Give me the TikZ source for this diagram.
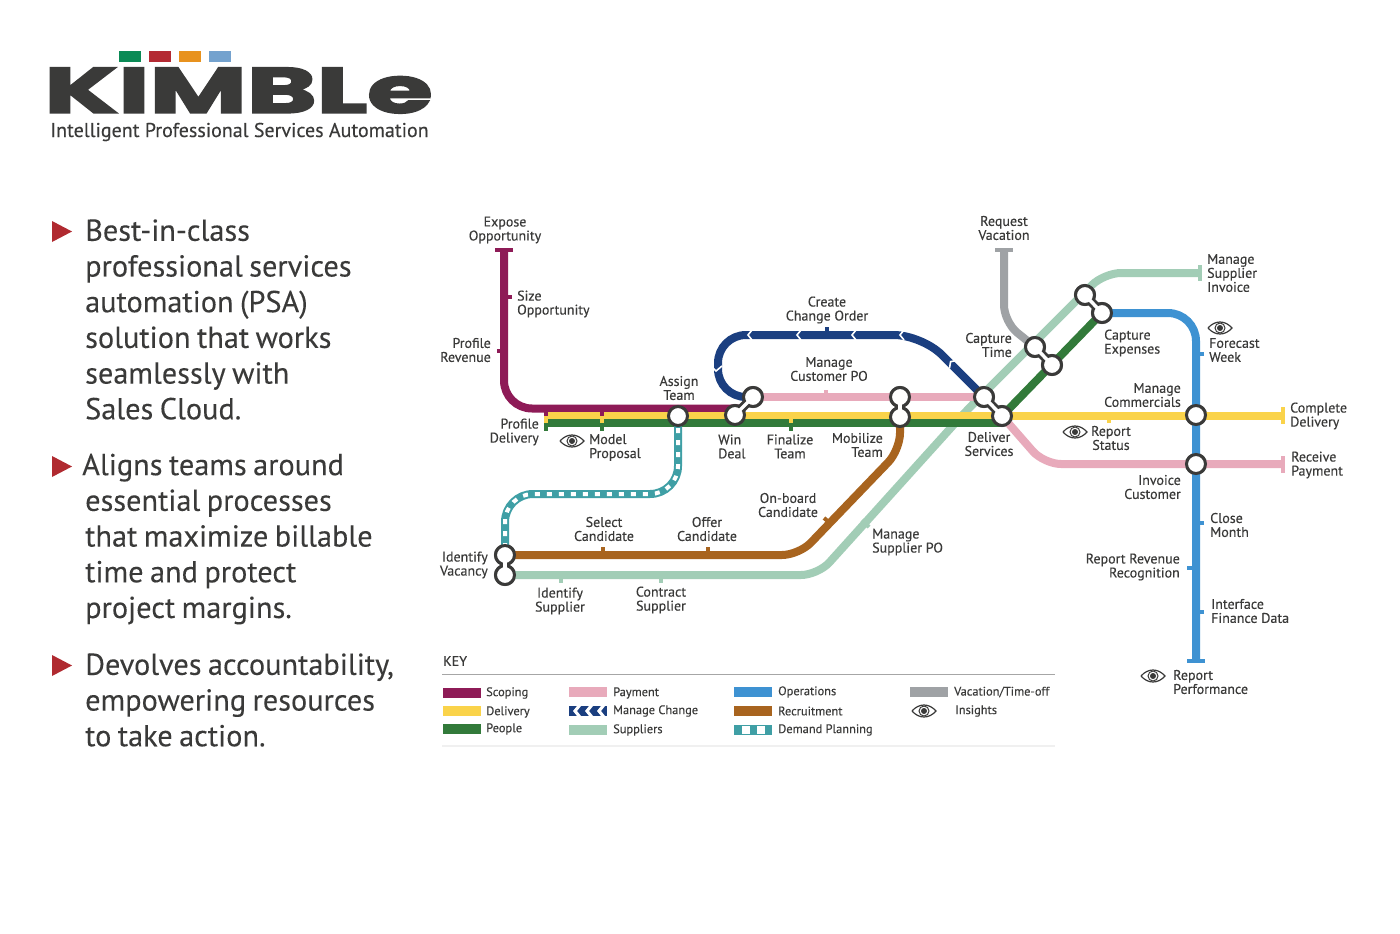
\documentclass[tikz,border=0pt]{standalone}
\usepackage{fontspec}
\setmainfont{PT Sans}
\newfontfamily\logofont[BoldFeatures={FakeBold=2.5}]{Poppins}
\newfontfamily\lblfont[FakeBold=0.25]{PT Sans}
\newfontfamily\parafont[WordSpace=0.8,FakeBold=0.1]{PT Sans}
\usetikzlibrary{arrows}
\definecolor{ink}{HTML}{3A3A39}
\definecolor{scoping}{HTML}{8E1B57}
\definecolor{delivery}{HTML}{FAD34A}
\definecolor{people}{HTML}{327A3A}
\definecolor{payment}{HTML}{E8AABB}
\definecolor{change}{HTML}{1B3F80}
\definecolor{suppliers}{HTML}{A2CDB6}
\definecolor{operations}{HTML}{3E92D2}
\definecolor{recruitment}{HTML}{A8641F}
\definecolor{planning}{HTML}{3F9FA5}
\definecolor{vacation}{HTML}{9FA2A5}
\definecolor{bullet}{HTML}{B02A30}
\begin{document}
\begin{tikzpicture}[x=1pt,y=-1pt,
    lbl/.style={inner sep=0pt,text=ink,yshift=1pt,font=\lblfont\fontsize{14}{14}\selectfont},
    lbll/.style={lbl,align=left,anchor=west},
    lblr/.style={lbl,align=right,anchor=east},
    lblc/.style={lbl,align=center},
    keylbl/.style={inner sep=0pt,text=ink,anchor=west,font=\lblfont\fontsize{12.4}{13}\selectfont},
    para/.style={inner sep=0pt,text=ink,align=left,anchor=west,font=\parafont\fontsize{30.3}{35.7}\selectfont},
    line/.style={line width=8pt,rounded corners=28pt},
    tight/.style={rounded corners=17pt},
    stub/.style={line width=4pt},
    endcap/.style={line width=4.5pt},
    chev/.style={draw=white,line width=1.6pt},
    stn/.style={shape=circle,draw=ink,fill=white,line width=3pt,minimum size=19pt,inner sep=0pt},
    neck/.style={draw=ink,line width=9pt},
    neckin/.style={draw=white,line width=3.5pt},
    keybar/.style={inner sep=0pt,minimum width=38pt,minimum height=10pt,anchor=west},
    eye/.pic={
        \draw[ink,line width=1.2pt] (-12,0) .. controls (-5,-8) and (5,-8) .. (12,0) .. controls (5,8) and (-5,8) .. (-12,0);
        \draw[ink,line width=1pt] (0,0) circle (5);
        \fill[ink] (0,0) circle (3);
    }]
    \useasboundingbox (0,0) rectangle (1400,934);
    \fill[white] (0,0) rectangle (1400,934);

    \fill[fill={rgb,255:red,10;green,138;blue,85}] (119,51) rectangle (141,62);
    \fill[fill={rgb,255:red,180;green,42;blue,51}] (149,51) rectangle (171,62);
    \fill[fill={rgb,255:red,232;green,146;blue,30}] (179,51) rectangle (201,62);
    \fill[fill={rgb,255:red,116;green,162;blue,206}] (209,51) rectangle (231,62);
    \node[inner sep=0pt,text=ink] (logo) at (238.5,90.5) {\resizebox{388pt}{45pt}{\logofont\bfseries KIMBLe}};
    \node[inner sep=0pt,text=ink,font=\lblfont\fontsize{20}{20}\selectfont] (tagline) at (239.5,132) {Intelligent Professional Services Automation};

    \fill[bullet] (52,221) -- (72,231.5) -- (52,242) -- cycle;
    \fill[bullet] (52,456) -- (72,466.5) -- (52,477) -- cycle;
    \fill[bullet] (52,655) -- (72,665.5) -- (52,676) -- cycle;
    \node[para] (p1) at (85,319.5) {Best-in-class\\professional services\\automation (PSA)\\solution that works\\seamlessly with\\Sales Cloud.};
    \node[para] (p2) at (85,539) {\hspace*{-3pt}Aligns teams around\\essential processes\\that maximize billable\\time and protect\\project margins.};
    \node[para] (p3) at (85,700) {Devolves accountability,\\empowering resources\\to take action.};

    \coordinate (expose) at (504,250);
    \coordinate (scopecorner) at (504,408.5);
    \coordinate (scopeend) at (740,408.5);
    \coordinate (delstart) at (545,415.5);
    \coordinate (delend) at (1283,415.5);
    \coordinate (pplstart) at (545,423);
    \coordinate (pplend) at (1000,423);
    \coordinate (supcornera) at (818,575);
    \coordinate (supcornerb) at (967,410);
    \coordinate (supcornerc) at (1104,273);
    \coordinate (supend) at (1200,273);
    \coordinate (paycornera) at (1044,464);
    \coordinate (payend) at (1283,464);
    \coordinate (chga) at (718,397);
    \coordinate (chgb) at (718,335);
    \coordinate (chgc) at (922,335);
    \coordinate (plana) at (678,494);
    \coordinate (planb) at (505,494);
    \coordinate (recra) at (799,555);
    \coordinate (recrb) at (900,450);
    \coordinate (opsa) at (1196,313);
    \coordinate (opsend) at (1196,661);
    \coordinate (vacstart) at (1004,250);
    \coordinate (vaca) at (1004,322);

    \node[stn] (assign) at (678,416) {};
    \node[stn] (win) at (735,415) {};
    \node[stn] (winb) at (753,397) {};
    \node[stn] (mobila) at (900,397) {};
    \node[stn] (mobil) at (900,417) {};
    \node[stn] (deliva) at (984,397) {};
    \node[stn] (deliv) at (1002,416) {};
    \node[stn] (capa) at (1035,347) {};
    \node[stn] (capt) at (1052,365) {};
    \node[stn] (expa) at (1085,295) {};
    \node[stn] (expe) at (1102,313) {};
    \node[stn] (vac) at (505,555) {};
    \node[stn] (vacb) at (505,575) {};
    \node[stn] (comm) at (1196,415) {};
    \node[stn] (inv) at (1196,464) {};

    \draw[line,tight,suppliers] (vacb.center) -- (supcornera) -- (supcornerb) -- (supcornerc) -- (supend);
    \draw[line,tight,vacation] (vacstart) -- (vaca) -- (capa.center);
    \draw[line,payment] (winb.center) -- (deliva.center);
    \draw[line,tight,payment] (deliv.center) -- (paycornera) -- (payend);
    \draw[line,scoping] (expose) -- (scopecorner) -- (scopeend);
    \draw[line,delivery] (delstart) -- (delend);
    \draw[line,people] (pplstart) -- (pplend);
    \draw[line,people] (deliv.center) -- (expe.center);
    \draw[line,change] (winb.center) -- (chga) -- (chgb) -- (chgc) -- (deliva.center);
    \draw[line,planning] (assign.center) -- (plana) -- (planb) -- (vac.center);
    \draw[line,white,line width=4pt,dash pattern=on 5pt off 7pt] (assign.center) -- (plana) -- (planb) -- (vac.center);
    \draw[line,tight,recruitment] (vac.center) -- (recra) -- (recrb) -- (mobil.center);
    \draw[line,operations] (expe.center) -- (opsa) -- (opsend);

    \foreach \x in {748,797,852,900}
        \draw[chev] (\x+4,330) -- (\x,335) -- (\x+4,340);
    \draw[chev] (957.3,360.5) -- (950.6,361.6) -- (949.5,368.3);
    \draw[chev] (711,366) -- (716,371) -- (722,366);

    \draw[endcap,scoping] (495,250) -- (513,250);
    \draw[endcap,vacation] (995,250) -- (1013,250);
    \draw[endcap,suppliers] (1200,265) -- (1200,281);
    \draw[endcap,delivery] (1283,407) -- (1283,424);
    \draw[endcap,payment] (1283,456) -- (1283,473);
    \draw[endcap,operations] (1187,661) -- (1205,661);

    \foreach \x in {546,602} {
        \draw[stub,scoping] (\x,410) -- (\x,416);
        \draw[stub,delivery] (\x,416) -- (\x,423);
        \draw[stub,people] (\x,423) -- (\x,431);
    }
    \draw[stub,delivery] (791,412) -- (791,423);
    \draw[stub,people] (791,423) -- (791,431);
    \draw[stub,scoping] (497,351) -- (504,351);
    \draw[stub,scoping] (504,297) -- (512,297);
    \draw[stub,payment] (826,397) -- (826,390);
    \draw[stub,change] (827,335) -- (827,327);
    \draw[stub,recruitment] (603,555) -- (603,547);
    \draw[stub,recruitment] (708,555) -- (708,547);
    \draw[stub,suppliers] (561,575) -- (561,583);
    \draw[stub,suppliers] (661,575) -- (661,583);
    \draw[stub,recruitment] (830,523) -- (824,518);
    \draw[stub,suppliers] (862,520) -- (869,527);
    \draw[stub,delivery] (1109,415) -- (1109,423);
    \draw[stub,operations] (1196,354) -- (1204,354);
    \draw[stub,operations] (1196,523) -- (1204,523);
    \draw[stub,operations] (1196,568) -- (1187,568);
    \draw[stub,operations] (1196,612) -- (1204,612);

    \foreach \a/\b in {win/winb,mobil/mobila,deliv/deliva,capt/capa,expe/expa,vac/vacb} {
        \path[neck] (\a.center) edge node {} (\b.center);
    }
    \foreach \n in {assign,win,winb,mobila,mobil,deliva,deliv,capa,capt,expa,expe,vac,vacb,comm,inv}
        \node[stn] at (\n.center) {};
    \foreach \a/\b in {win/winb,mobil/mobila,deliv/deliva,capt/capa,expe/expa,vac/vacb} {
        \path[neckin] (\a.center) edge node {} (\b.center);
    }

    \node[lblc] (l1) at (505,231) {Expose\\Opportunity};
    \node[lbll] (l2) at (517,305) {Size\\Opportunity};
    \node[lblr] (l3) at (491,351) {Profile\\Revenue};
    \node[lblr] (l4) at (539,433) {Profile\\Delivery};
    \node[lbll] (l5) at (589,448.5) {Model\\Proposal};
    \node[lblc] (l6) at (679,389) {Assign\\Team};
    \node[lbll] (l7) at (718,447.5) {Win\\Deal};
    \node[lblc] (l8) at (790,447.5) {Finalize\\Team};
    \node[lblr] (l9) at (883,446) {Mobilize\\Team};
    \node[lblc] (l10) at (827,311) {Create\\Change Order};
    \node[lblc] (l11) at (829,370) {Manage\\Customer PO};
    \node[lblc] (l12) at (1004,229) {Request\\Vacation};
    \node[lblr] (l13) at (1012,346) {Capture\\Time};
    \node[lblc] (l14) at (989,445) {Deliver\\Services};
    \node[lbll] (l15) at (1104,344) {Capture\\Expenses};
    \node[lbll] (l16) at (1207,274) {Manage\\Supplier\\Invoice};
    \node[lbll] (l17) at (1209,351) {Forecast\\Week};
    \node[lblr] (l18) at (1181,396) {Manage\\Commercials};
    \node[lblc] (l19) at (1111,439) {Report\\Status};
    \node[lbll] (l20) at (1290,417) {Complete\\Delivery};
    \node[lbll] (l21) at (1291,466) {Receive\\Payment};
    \node[lblr] (l22) at (1181,488) {Invoice\\Customer};
    \node[lbll] (l23) at (1210,526) {Close\\Month};
    \node[lblr] (l24) at (1180,568) {Report Revenue\\Recognition};
    \node[lbll] (l25) at (1211,612) {Interface\\Finance Data};
    \node[lbll] (l26) at (1173,683) {Report\\Performance};
    \node[lblc] (l27) at (788,506) {On-board\\Candidate};
    \node[lblc] (l28) at (604,530) {Select\\Candidate};
    \node[lblc] (l29) at (707,530) {Offer\\Candidate};
    \node[lblr] (l30) at (488,566) {Identify\\Vacancy};
    \node[lblc] (l31) at (560,602) {Identify\\Supplier};
    \node[lblc] (l32) at (661,601) {Contract\\Supplier};
    \node[lbll] (l33) at (872,543) {Manage\\Supplier PO};

    \foreach \x/\y in {572/441,1075/432,1220/328,1153/676,924/711}
        \pic at (\x,\y) {eye};

    \node[lbl,anchor=west] (keytitle) at (443,662) {KEY};
    \coordinate (rulea) at (442,674);
    \coordinate (ruleb) at (1055,674);
    \coordinate (rulec) at (442,746);
    \coordinate (ruled) at (1055,746);
    \draw[black!35,line width=1pt] (rulea) -- (ruleb);
    \draw[black!6,line width=1.5pt] (rulec) -- (ruled);

    \node[keybar,fill=scoping] (k1) at (443,693) {};
    \node[keybar,fill=delivery] (k2) at (443,711) {};
    \node[keybar,fill=people] (k3) at (443,729) {};
    \node[keybar,fill=payment] (k4) at (569,692) {};
    \node[keybar,fill=change] (k5) at (569,711) {};
    \node[keybar,fill=suppliers] (k6) at (569,730) {};
    \node[keybar,fill=operations] (k7) at (734,692) {};
    \node[keybar,fill=recruitment] (k8) at (734,711) {};
    \node[keybar,fill=planning] (k9) at (734,730) {};
    \node[keybar,fill=vacation] (k10) at (910,692) {};
    \foreach \x in {577,589,601}
        \fill[white] (\x,706) -- (\x+4,706) -- (\x,711) -- (\x+4,716) -- (\x,716) -- (\x-4,711) -- cycle;
    \fill[white] (742,726) rectangle (750,734);
    \fill[white] (757,726) rectangle (765,734);

    \node[keylbl] (t1) at (486,693) {Scoping};
    \node[keylbl] (t2) at (486,712) {Delivery};
    \node[keylbl] (t3) at (486,729) {People};
    \node[keylbl] (t4) at (613,693) {Payment};
    \node[keylbl] (t5) at (613,711) {Manage Change};
    \node[keylbl] (t6) at (613,730) {Suppliers};
    \node[keylbl] (t7) at (778,692) {Operations};
    \node[keylbl] (t8) at (778,711) {Recruitment};
    \node[keylbl] (t9) at (778,730) {Demand Planning};
    \node[keylbl] (t10) at (954,692) {Vacation/Time-off};
    \node[keylbl] (t11) at (955,711) {Insights};
\end{tikzpicture}
\end{document}
